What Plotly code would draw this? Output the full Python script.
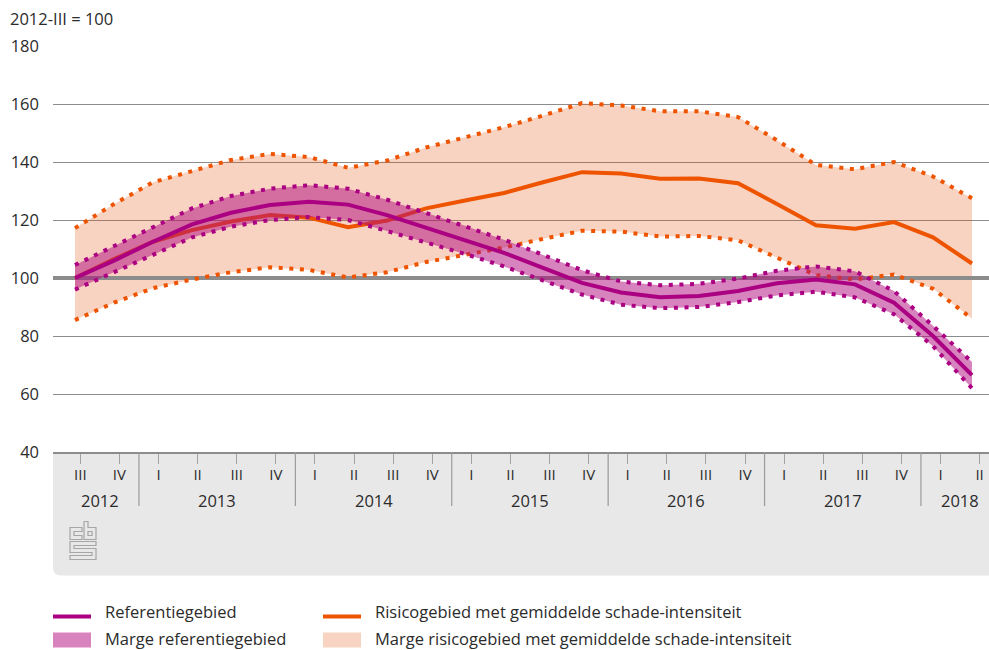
import plotly.graph_objects as go

quarters = ["III","IV","I","II","III","IV","I","II","III","IV","I","II","III","IV","I","II","III","IV","I","II","III","IV","I","II"]
years = ["2012","2013","2014","2015","2016","2017","2018"]
year_quarter_counts = [2,4,4,4,4,4,2]

risk_upper = [117.2,125.5,133,137,140.7,142.8,141.7,138,140.5,145,148.5,152,156,160.3,159.5,157.5,157.5,155.5,147.5,139,137.5,140,135,127.5]
risk_mid   = [100,106.5,112.5,116.5,119.5,121.7,120.8,117.5,119.8,124,126.7,129.3,133,136.5,136,134.2,134.3,132.7,125.5,118.2,117,119.3,114,105]
risk_lower = [85.5,91.5,96.5,99.5,102,103.7,102.8,100.2,102,105.5,108,110.5,113.5,116.3,116,114.3,114.5,113,107,101,99.5,101.2,96.3,86]
ref_upper  = [104.5,111,117.5,124,128.3,130.8,132,130.8,127,122.5,118,113.2,108,102.7,98.8,97.5,98,99.8,102.5,104,102.3,95.5,83.5,71]
ref_mid    = [100,106,112.5,118.5,122.5,125.2,126.3,125.3,121.7,117.3,113.2,108.7,103.5,98.3,95,93.4,93.8,95.5,98.2,99.5,97.8,91.5,80,66.5]
ref_lower  = [96,102,108,114,117.7,120,121,120,116.2,112.3,108.3,104,99,94.3,90.8,89.6,90,91.7,94,95.3,93.3,87.5,76.5,62]

REF = "#AB0082"
RISK = "#EE5400"
REF_FILL = "rgba(175,10,125,0.5)"
RISK_FILL = "rgba(231,79,11,0.25)"
TXT = "#2b2b2b"
FONT = "Open Sans"
DOTS = "4px,6.6px"

W, H = 989, 650
L, T, B = 53, 45.5, 452.5
STEP = 39.0
X0 = 75.0
TICK_STEP = 39.1
TICK0 = 80.3

xs = list(range(len(quarters)))
def px2x(p):
    return (p - X0) / STEP
tickx = [px2x(TICK0 + TICK_STEP * i) for i in xs]

fig = go.Figure()
def line(y, color, dash=None, width=4, name=None):
    fig.add_trace(go.Scatter(x=xs, y=y, mode="lines", name=name, showlegend=False,
                             line=dict(color=color, width=width, dash=dash)))
def band(up, lo, color, name):
    fig.add_trace(go.Scatter(x=xs, y=up, mode="lines", line=dict(width=0), showlegend=False, hoverinfo="skip"))
    fig.add_trace(go.Scatter(x=xs, y=lo, mode="lines", line=dict(width=0), fill="tonexty", fillcolor=color,
                             name=name, showlegend=False))

band(risk_upper, risk_lower, RISK_FILL, "Marge risicogebied met gemiddelde schade-intensiteit")
fig.add_trace(go.Scatter(x=[px2x(L), px2x(W)], y=[100, 100], mode="lines", showlegend=False,
                         line=dict(color="#8c8c8c", width=4), hoverinfo="skip"))
line(risk_upper, RISK, DOTS, 4)
line(risk_lower, RISK, DOTS, 4)
line(risk_mid, RISK, None, 4, "Risicogebied met gemiddelde schade-intensiteit")
band(ref_upper, ref_lower, REF_FILL, "Marge referentiegebied")
line(ref_upper, REF, DOTS, 4)
line(ref_lower, REF, DOTS, 4)
line(ref_mid, REF, None, 4, "Referentiegebied")

def pxpath(points):
    return "M" + " L".join(f"{x-L:.1f},{B-y:.1f}" for x, y in points) + " Z"

def pixel_shape(path, **kw):
    return dict(type="path", xref="paper", yref="paper", xsizemode="pixel", ysizemode="pixel",
                xanchor=0, yanchor=0, path=path, **kw)

shapes = []
# grey panel below the axis, rounded bottom-left corner
panel = f"M0,0 L{W-L},0 L{W-L},{B-576} L{8},{B-576} Q0,{B-576} 0,{B-568} Z"
shapes.append(pixel_shape(panel, fillcolor="#E8E8E8", line=dict(width=0), layer="below"))
# year separators
bounds = [TICK0 - TICK_STEP / 2]
for n in year_quarter_counts:
    bounds.append(bounds[-1] + n * TICK_STEP)
for b in bounds[1:-1]:
    shapes.append(dict(type="line", xref="x", yref="paper", ysizemode="pixel", yanchor=0,
                       x0=px2x(b), x1=px2x(b), y0=0, y1=-54, line=dict(color="#9a9a9a", width=1.2)))
# logo
logo = [
    [(70,528),(82,528),(82,532),(74,532),(74,536),(82,536),(82,540),(70,540)],
    [(84,522),(88,522),(88,528),(96,528),(96,540),(84,540)],
    [(88,532),(92,532),(92,536),(88,536)],
    [(70,542),(96,542),(96,546),(74,546),(74,549),(96,549),(96,560),(70,560),(70,556),(92,556),(92,553),(70,553)],
]
for p in logo:
    shapes.append(pixel_shape(pxpath(p), fillcolor="rgba(0,0,0,0)", line=dict(color="#a6a6a6", width=1.2)))
# legend swatches
shapes.append(pixel_shape(pxpath([(53,615),(91,615),(91,619),(53,619)]), fillcolor=REF, line=dict(width=0)))
shapes.append(pixel_shape(pxpath([(323,615),(361,615),(361,619),(323,619)]), fillcolor=RISK, line=dict(width=0)))
shapes.append(pixel_shape(pxpath([(53,633),(91,633),(91,648),(53,648)]), fillcolor="#D883BD", line=dict(width=0)))
shapes.append(pixel_shape(pxpath([(323,633),(361,633),(361,648),(323,648)]), fillcolor="#F9D3C2", line=dict(width=0)))

ann = []
def text(x, y, s, size=16.5, anchor="left"):
    ann.append(dict(text=s, xref="paper", yref="paper", x=(x - L) / (W - L), y=(B - y) / (B - T),
                    xanchor=anchor, yanchor="middle", showarrow=False, align=anchor, borderpad=0,
                    font=dict(family=FONT, size=size, color=TXT)))
text(9, 18, "2012-III = 100", 16.5)
for yr, a, b in zip(years, bounds[:-1], bounds[1:]):
    text((a + min(b, 1001)) / 2, 501.5, yr, 16.5, "center")
text(104, 612.5, "Referentiegebied")
text(374, 612.5, "Risicogebied met gemiddelde schade-intensiteit")
text(104, 639.2, "Marge referentiegebied")
text(374, 639.2, "Marge risicogebied met gemiddelde schade-intensiteit")

fig.update_layout(
    width=W, height=H, margin=dict(l=L, r=0, t=T, b=H - B, autoexpand=False),
    paper_bgcolor="white", plot_bgcolor="white", showlegend=False,
    font=dict(family=FONT, color=TXT, size=16),
    shapes=shapes, annotations=ann,
    xaxis=dict(range=[px2x(L), px2x(W)], tickmode="array", tickvals=tickx, ticktext=quarters,
               ticks="outside", ticklen=10, tickcolor="#a3a3a3", tickwidth=1, showgrid=False, zeroline=False,
               showline=True, linecolor="#8c8c8c", linewidth=2, ticklabelstandoff=-2,
               tickfont=dict(size=15, family=FONT, color=TXT)),
    yaxis=dict(range=[40, 180], tickvals=list(range(40, 181, 20)), showgrid=True, gridcolor="#8c8c8c", gridwidth=1,
               zeroline=False, showline=False, ticks="", ticklabelstandoff=13,
               tickfont=dict(size=16.5, family=FONT, color=TXT)),
)
fig.write_html("out.html", config={"displayModeBar": False},
               post_script="document.body.style.margin='0';")
